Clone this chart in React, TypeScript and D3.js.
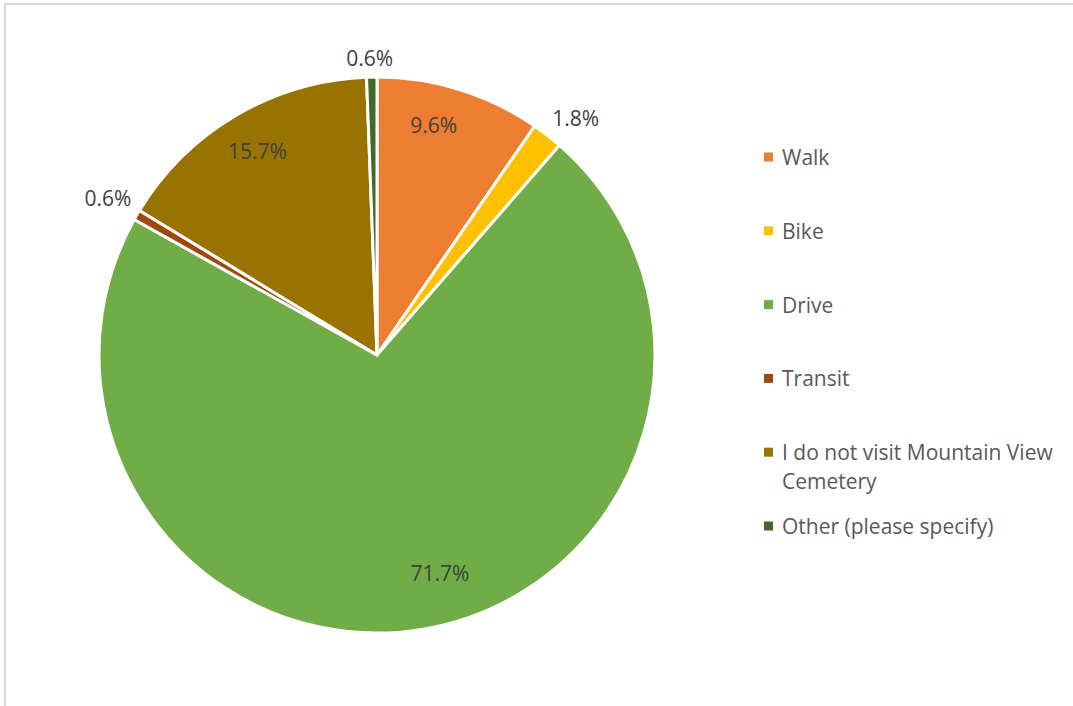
import React from "react";
import * as d3 from "d3";

const categories = [
  "Walk",
  "Bike",
  "Drive",
  "Transit",
  "I do not visit Mountain View Cemetery",
  "Other (please specify)",
];
const legendLines = [
  ["Walk"],
  ["Bike"],
  ["Drive"],
  ["Transit"],
  ["I do not visit Mountain View", "Cemetery"],
  ["Other (please specify)"],
];
const values = [9.6, 1.8, 71.7, 0.6, 15.7, 0.6];
const colors = ["#ED7D31", "#FFC000", "#70AD47", "#9E480E", "#997300", "#43682B"];
// label placement: radius factor and position within slice (fraction of angle)
const labelRadius = [0.853, 1.112, 0.817, 1.12, 0.85, 1.07];
const labelFrac = [0.4, 0.84, 0.476, 0.5, 0.5, 0.35];

const W = 1073;
const H = 706;
const cx = 377;
const cy = 355;
const R = 278;
const FONT = "'Open Sans', sans-serif";

export default function App() {
  const pie = d3
    .pie<number>()
    .sort(null)
    .value((d) => d)
    .startAngle(0)
    .endAngle(2 * Math.PI);
  const arcs = pie(values);
  const arc = d3.arc<d3.PieArcDatum<number>>().innerRadius(0).outerRadius(R);

  const legendX = 764;
  const legendY0 = 157;
  const legendStep = 73.8;
  const lineH = 29;

  return (
    <svg
      width={W}
      height={H}
      style={{ position: "absolute", left: 0, top: 0, background: "#fff" }}
    >
      <rect x={5} y={4} width={W + 10} height={H + 10} fill="#fff" stroke="#d9d9d9" strokeWidth={2} />
      <g transform={`translate(${cx},${cy})`}>
        {arcs.map((a, i) => (
          <path key={i} d={arc(a) || ""} fill={colors[i]} stroke="#fff" strokeWidth={3} strokeLinejoin="round" />
        ))}
        {arcs.map((a, i) => {
          const ang = a.startAngle + (a.endAngle - a.startAngle) * labelFrac[i];
          const r = R * labelRadius[i];
          const x = Math.sin(ang) * r;
          const y = -Math.cos(ang) * r;
          return (
            <text
              key={i}
              x={x}
              y={y}
              textAnchor="middle"
              dominantBaseline="central"
              fontFamily={FONT}
              fontSize={21}
              fill="#404040"
            >
              {values[i].toFixed(1) + "%"}
            </text>
          );
        })}
      </g>
      <g>
        {categories.map((c, i) => {
          const y = legendY0 + i * legendStep;
          return (
            <g key={c}>
              <rect x={legendX} y={y - 4.5} width={9} height={9} fill={colors[i]} />
              <text fontFamily={FONT} fontSize={21} fill="#595959">
                {legendLines[i].map((ln, j) => (
                  <tspan key={j} x={legendX + 18} y={y + j * lineH} dominantBaseline="central">
                    {ln}
                  </tspan>
                ))}
              </text>
            </g>
          );
        })}
      </g>
    </svg>
  );
}
